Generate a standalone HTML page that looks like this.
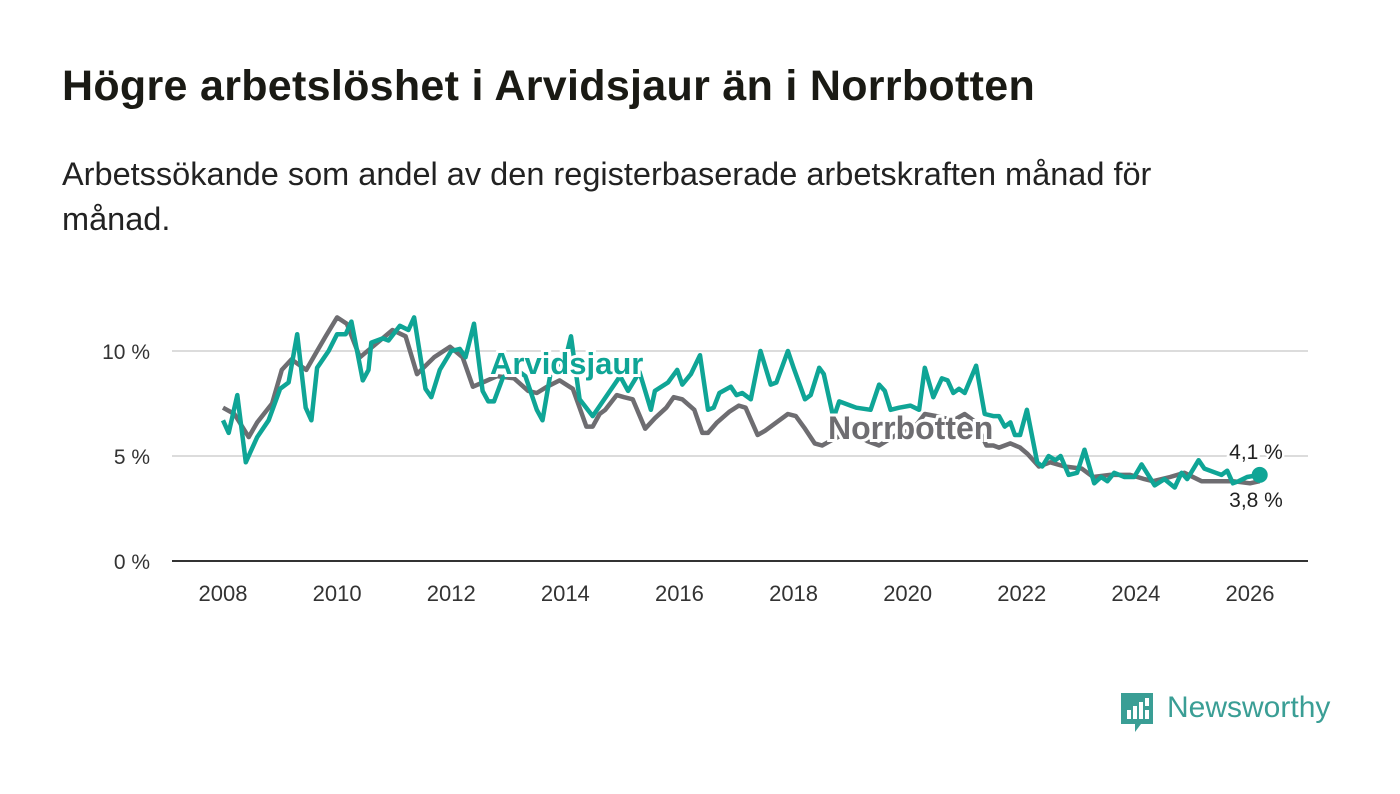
<!DOCTYPE html>
<html><head><meta charset="utf-8"><style>
body{margin:0;background:#fff;width:1400px;height:794px;overflow:hidden;font-family:"Liberation Sans",sans-serif}
#title{position:absolute;left:62px;top:62px;font-size:43px;font-weight:bold;color:#1a1a14;margin:0;white-space:nowrap;letter-spacing:0.3px}
#sub{position:absolute;left:62px;top:152px;width:1190px;font-size:32.5px;line-height:45px;color:#222}
svg{position:absolute;left:0;top:0}
</style></head><body>
<h1 id="title">Högre arbetslöshet i Arvidsjaur än i Norrbotten</h1>
<div id="sub">Arbetssökande som andel av den registerbaserade arbetskraften månad för månad.</div>
<svg id="chart" width="1400" height="794"></svg>
<script>
const yTicks=[0,5,10];
const yTickLabels=["0 %","5 %","10 %"];
const xTicks=[2008,2010,2012,2014,2016,2018,2020,2022,2024,2026];
const arvYears=[2008.0,2008.1,2008.25,2008.4,2008.6,2008.8,2009.0,2009.15,2009.3,2009.45,2009.55,2009.65,2009.85,2010.0,2010.15,2010.25,2010.45,2010.55,2010.6,2010.8,2010.9,2011.1,2011.25,2011.35,2011.55,2011.65,2011.8,2012.0,2012.15,2012.25,2012.4,2012.55,2012.65,2012.75,2012.9,2013.1,2013.3,2013.5,2013.6,2013.75,2014.0,2014.1,2014.25,2014.48,2014.96,2015.1,2015.3,2015.5,2015.57,2015.8,2015.96,2016.05,2016.2,2016.36,2016.5,2016.6,2016.7,2016.9,2017.0,2017.1,2017.25,2017.42,2017.6,2017.7,2017.9,2018.0,2018.2,2018.3,2018.45,2018.53,2018.7,2018.8,2019.0,2019.1,2019.35,2019.5,2019.6,2019.7,2019.85,2020.05,2020.2,2020.3,2020.45,2020.6,2020.7,2020.8,2020.9,2021.0,2021.2,2021.35,2021.5,2021.6,2021.7,2021.8,2021.88,2021.97,2022.09,2022.27,2022.36,2022.47,2022.59,2022.68,2022.82,2022.97,2023.1,2023.27,2023.39,2023.5,2023.62,2023.8,2023.97,2024.1,2024.33,2024.5,2024.68,2024.8,2024.9,2025.1,2025.2,2025.4,2025.5,2025.6,2025.7,2025.8,2025.95,2026.17];
const arvVals=[6.7,6.1,7.9,4.7,5.9,6.7,8.2,8.5,10.8,7.3,6.7,9.2,10.0,10.8,10.8,11.4,8.6,9.1,10.4,10.6,10.5,11.2,11.0,11.6,8.2,7.8,9.1,10.0,10.1,9.7,11.3,8.1,7.6,7.6,8.7,9.2,8.8,7.2,6.7,9.1,9.6,10.7,7.7,6.9,8.8,8.1,9.0,7.2,8.1,8.5,9.1,8.4,8.9,9.8,7.2,7.3,8.0,8.3,7.9,8.0,7.7,10.0,8.4,8.5,10.0,9.2,7.7,7.9,9.2,8.9,6.8,7.6,7.4,7.3,7.2,8.4,8.1,7.2,7.3,7.4,7.2,9.2,7.8,8.7,8.6,8.0,8.2,8.0,9.3,7.0,6.9,6.9,6.4,6.6,6.0,6.0,7.2,4.7,4.5,5.0,4.8,5.0,4.1,4.2,5.3,3.7,4.0,3.8,4.2,4.0,4.0,4.6,3.6,3.9,3.5,4.2,3.9,4.8,4.4,4.2,4.1,4.3,3.7,3.8,4.0,4.1];
const norYears=[2008.0,2008.2,2008.45,2008.6,2008.86,2009.03,2009.2,2009.46,2009.65,2009.8,2010.0,2010.17,2010.4,2010.62,2010.97,2011.2,2011.4,2011.7,2011.98,2012.2,2012.38,2012.55,2012.8,2013.1,2013.35,2013.5,2013.68,2013.9,2014.13,2014.37,2014.48,2014.6,2014.7,2014.9,2015.03,2015.18,2015.4,2015.57,2015.77,2015.9,2016.05,2016.26,2016.4,2016.5,2016.66,2016.87,2017.04,2017.16,2017.37,2017.5,2017.7,2017.9,2018.04,2018.2,2018.37,2018.5,2018.7,2019.0,2019.3,2019.5,2019.8,2020.1,2020.3,2020.5,2020.8,2021.0,2021.2,2021.38,2021.5,2021.6,2021.8,2021.97,2022.1,2022.3,2022.5,2022.75,2023.05,2023.25,2023.55,2023.9,2024.15,2024.3,2024.6,2024.85,2025.15,2025.4,2025.7,2026.0,2026.17];
const norVals=[7.3,7.0,5.9,6.6,7.5,9.1,9.6,9.1,10.0,10.7,11.6,11.3,9.7,10.2,11.0,10.7,8.9,9.7,10.2,9.7,8.3,8.5,8.8,8.7,8.1,8.0,8.3,8.6,8.2,6.4,6.4,7.0,7.2,7.9,7.8,7.7,6.3,6.8,7.3,7.8,7.7,7.2,6.1,6.1,6.6,7.1,7.4,7.3,6.0,6.2,6.6,7.0,6.9,6.3,5.6,5.5,5.8,6.2,5.7,5.5,6.0,6.3,7.0,6.9,6.7,7.0,6.6,5.5,5.5,5.4,5.6,5.4,5.1,4.5,4.7,4.5,4.4,4.0,4.1,4.1,3.9,3.8,4.0,4.2,3.8,3.8,3.8,3.7,3.8];
const NS="http://www.w3.org/2000/svg";
const svg=document.getElementById('chart');
const X=y=>223+(y-2008)*(1027/18);
const Y=v=>561-v*21;
function mk(t,a,p){const e=document.createElementNS(NS,t);for(const k in a)e.setAttribute(k,a[k]);(p||svg).appendChild(e);return e;}
yTicks.forEach((t,i)=>{
  if(t>0){const g=mk('line',{x1:172,x2:1308,y1:Y(t),y2:Y(t),stroke:'#dcdcdc','stroke-width':2});
  
  }
  const l=mk('text',{x:150,y:Y(t)+8,'text-anchor':'end','font-size':21,fill:'#333'});l.textContent=yTickLabels[i];
  
  
});
const ax=mk('line',{x1:172,x2:1308,y1:561,y2:561,stroke:'#333','stroke-width':2});


xTicks.forEach(t=>{
  const l=mk('text',{x:X(t),y:601,'text-anchor':'middle','font-size':22,fill:'#333'});l.textContent=t;
  
  
});
function pts(ys,vs){return ys.map((y,i)=>X(y).toFixed(1)+','+Y(vs[i]).toFixed(1)).join(' ');}
const nl=mk('polyline',{points:pts(norYears,norVals),fill:'none',stroke:'#6e6d71','stroke-width':4.5,'stroke-linejoin':'round'});


const al=mk('polyline',{points:pts(arvYears,arvVals),fill:'none',stroke:'#0fa596','stroke-width':4.5,'stroke-linejoin':'round'});


function lab(txt,x,y,c,name,fs){const t=mk('text',{x:x,y:y,'font-size':fs,'font-weight':'bold',fill:c,stroke:'#fff','stroke-width':6,'paint-order':'stroke'});t.textContent=txt;
  
  }
lab('Arvidsjaur',490,374,'#0fa596','arvidsjaur-label',31);
lab('Norrbotten',828,439,'#6e6d71','norrbotten-label',32);
const dot=mk('circle',{cx:X(arvYears[arvYears.length-1]),cy:Y(arvVals[arvVals.length-1]),r:8,fill:'#0fa596'});


function vl(txt,y,name){const t=mk('text',{x:1256,y:y,'text-anchor':'middle','font-size':21,fill:'#222',stroke:'#fff','stroke-width':5,'paint-order':'stroke'});t.textContent=txt;
  
  }
vl('4,1 %',459,'arvidsjaur-end-value');
vl('3,8 %',507,'norrbotten-end-value');
</script>
<div style="position:absolute;left:1119px;top:690px;height:46px">
  <svg width="36" height="46" style="position:absolute;left:0;top:0">
    <path d="M2 3h32v31H22l-6 8v-8H2z" fill="#3a9e95"/>
    <rect x="8" y="20" width="4" height="9" fill="#fff"/><rect x="14" y="16" width="4" height="13" fill="#fff"/><rect x="20" y="12" width="4" height="17" fill="#fff"/><rect x="26" y="8" width="4" height="8" fill="#fff"/><rect x="26" y="20" width="4" height="9" fill="#fff"/>
  </svg>
  <span style="position:absolute;left:48px;top:1px;font-size:30px;color:#3a9e95;font-weight:500;white-space:nowrap">Newsworthy</span>
</div>
</body></html>
